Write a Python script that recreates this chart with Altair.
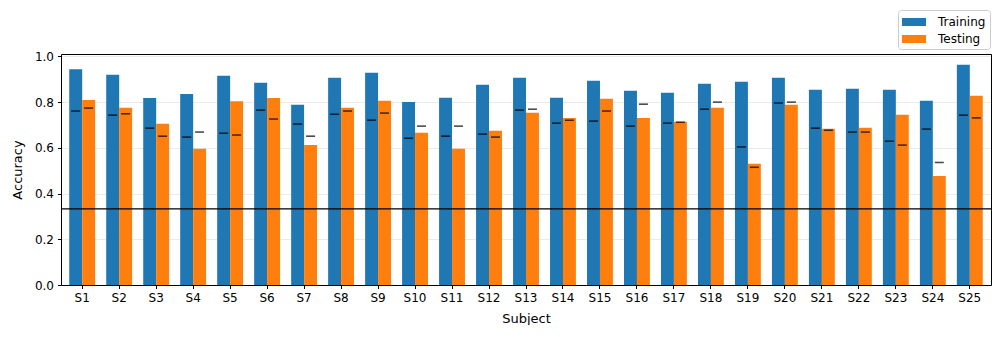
import altair as alt
import pandas as pd

subjects = [f"S{i}" for i in range(1, 26)]
train_acc = [0.944, 0.920, 0.818, 0.836, 0.915, 0.885, 0.788, 0.907, 0.928, 0.801,
             0.819, 0.876, 0.907, 0.819, 0.893, 0.850, 0.841, 0.880, 0.889, 0.907,
             0.854, 0.858, 0.854, 0.806, 0.963]
test_acc = [0.809, 0.775, 0.705, 0.596, 0.804, 0.818, 0.612, 0.775, 0.806, 0.666,
            0.596, 0.675, 0.753, 0.731, 0.815, 0.731, 0.714, 0.775, 0.530, 0.788,
            0.683, 0.688, 0.745, 0.477, 0.828]
train_mark = [0.761, 0.743, 0.686, 0.647, 0.664, 0.765, 0.704, 0.747, 0.721, 0.642,
              0.651, 0.660, 0.765, 0.708, 0.717, 0.695, 0.708, 0.769, 0.604, 0.796,
              0.686, 0.669, 0.629, 0.682, 0.743]
test_mark = [0.774, 0.749, 0.651, 0.669, 0.656, 0.726, 0.651, 0.761, 0.752, 0.695,
             0.695, 0.647, 0.769, 0.721, 0.761, 0.791, 0.712, 0.800, 0.515, 0.800,
             0.677, 0.669, 0.612, 0.536, 0.731]
chance = [1 / 3]
series = ["Training", "Testing"]
colors = ["#1f77b4", "#ff7f0e"]

rows = []
for i, s in enumerate(subjects):
    rows.append({"Subject": s, "Set": "Training", "acc": train_acc[i], "mark": train_mark[i]})
    rows.append({"Subject": s, "Set": "Testing", "acc": test_acc[i], "mark": test_mark[i]})
df = pd.DataFrame(rows)

font = "DejaVu Sans"

x_enc = alt.X(
    "Subject:N",
    sort=subjects,
    scale=alt.Scale(paddingInner=0.3, paddingOuter=0.223),
    axis=alt.Axis(
        title="Subject", labelAngle=0, grid=False, tickColor="black", tickSize=3.5,
        domainColor="black", labelFontSize=12, titleFontSize=13, labelPadding=4,
        titlePadding=9, labelColor="black", titleColor="black", titleFontWeight="normal",
        labelFont=font, titleFont=font,
    ),
)
xoff = alt.XOffset("Set:N", sort=series, scale=alt.Scale(domain=series, paddingInner=0, paddingOuter=0))
y_scale = alt.Scale(domain=[0, 1.0105], nice=False, zero=True)

bars = alt.Chart(df).mark_bar().encode(
    x=x_enc,
    xOffset=xoff,
    y=alt.Y(
        "acc:Q",
        scale=y_scale,
        axis=alt.Axis(
            title="Accuracy", values=[0, 0.2, 0.4, 0.6, 0.8, 1.0], format=".1f",
            grid=True, gridColor="#e6e6e6", gridWidth=0.8, tickColor="black", tickSize=3.5,
            domainColor="black", labelFontSize=12, titleFontSize=13, labelPadding=4,
            titlePadding=10, labelColor="black", titleColor="black", titleFontWeight="normal",
            labelFont=font, titleFont=font,
        ),
    ),
    color=alt.Color(
        "Set:N",
        sort=series,
        scale=alt.Scale(domain=series, range=colors),
        legend=alt.Legend(
            title=None, orient="none", legendX=837, legendY=-44,
            symbolType="M-1,-0.5L2,-0.5L2,0.5L-1,0.5Z", symbolSize=256,
            symbolStrokeWidth=0, symbolOpacity=1, labelOffset=20,
            labelFontSize=12, labelFont=font, labelColor="black",
            padding=4, rowPadding=3, strokeColor="#cccccc", fillColor="white",
            cornerRadius=3,
        ),
    ),
)

frame_axis = dict(title=None, labels=False, ticks=False, grid=False, domainColor="black", domainWidth=1)

ticks = alt.Chart(df).mark_tick(color="black", size=9, thickness=1.6).encode(
    x=alt.X("Subject:N", sort=subjects, axis=alt.Axis(orient="top", **frame_axis)),
    xOffset=alt.XOffset("Set:N", sort=series),
    y=alt.Y("mark:Q", axis=alt.Axis(orient="right", **frame_axis)),
)

rule = alt.Chart(pd.DataFrame({"y": chance})).mark_rule(color="black", strokeWidth=1.2).encode(
    y=alt.Y("y:Q", axis=None)
)

chart = alt.layer(bars, ticks, rule).resolve_axis(x="independent", y="independent").properties(
    width=930, height=231,
    autosize=alt.AutoSizeParams(type="none"),
    padding={"left": 53, "top": 46, "right": 5, "bottom": 40},
).configure_view(stroke=None).configure(background="white")

chart.save("out.html", embed_options={"renderer": "svg", "actions": False})
